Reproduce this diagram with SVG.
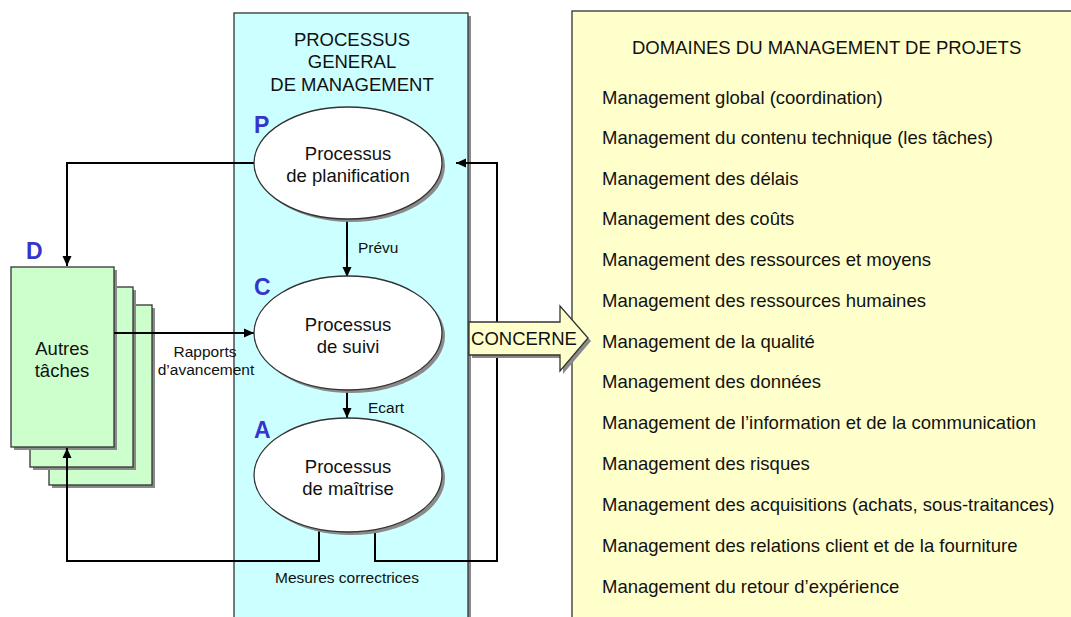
<svg xmlns="http://www.w3.org/2000/svg" width="1071" height="617" viewBox="0 0 1071 617">
<defs>
<marker id="ah" viewBox="0 0 10 10" refX="10" refY="5" markerWidth="10" markerHeight="10" markerUnits="userSpaceOnUse" orient="auto">
<path d="M0,0.5 L10,5 L0,9.5 Z" fill="#000"/>
</marker>
</defs>
<style>
text{font-family:"Liberation Sans",Arial,sans-serif;fill:#111}
.t{font-size:18.5px}
.s{font-size:15.5px}
.m{text-anchor:middle}
.lt{font-size:23px;font-weight:bold;fill:#3535CC}
.sh{fill:#8a8a8a}
.box{stroke:#333;stroke-width:1.3}
.conn{fill:none;stroke:#000;stroke-width:2}
.ell{fill:#fff;stroke:#333;stroke-width:1.3}
</style>
<rect width="1071" height="617" fill="#fff"/>

<g id="panel-processus">
<rect class="sh" x="237" y="16" width="234" height="610"/>
<rect class="box" x="234" y="13" width="234" height="610" fill="#CCFFFF"/>
<text class="t m" x="352" y="46">PROCESSUS</text>
<text class="t m" x="352" y="68">GENERAL</text>
<text class="t m" x="352" y="90.5">DE MANAGEMENT</text>
</g>

<g id="panel-domaines">
<rect class="sh" x="575" y="14" width="510" height="620"/>
<rect class="box" x="572" y="11" width="510" height="620" fill="#FFFFCC"/>
<text class="t" x="632" y="54">DOMAINES DU MANAGEMENT DE PROJETS</text>
<g class="t">
<text x="602" y="104">Management global (coordination)</text>
<text x="602" y="144">Management du contenu technique (les tâches)</text>
<text x="602" y="185">Management des délais</text>
<text x="602" y="225">Management des coûts</text>
<text x="602" y="266">Management des ressources et moyens</text>
<text x="602" y="307">Management des ressources humaines</text>
<text x="602" y="348">Management de la qualité</text>
<text x="602" y="388">Management des données</text>
<text x="602" y="429">Management de l’information et de la communication</text>
<text x="602" y="470">Management des risques</text>
<text x="602" y="511">Management des acquisitions (achats, sous-traitances)</text>
<text x="602" y="552">Management des relations client et de la fourniture</text>
<text x="602" y="593">Management du retour d’expérience</text>
</g>
</g>

<g id="autres-taches">
<rect class="sh" x="52" y="308" width="103" height="180"/>
<rect class="box" x="49" y="305" width="103" height="180" fill="#CCFFCC"/>
<rect class="sh" x="33" y="290" width="103" height="180"/>
<rect class="box" x="30" y="287" width="103" height="180" fill="#CCFFCC"/>
<rect class="sh" x="14" y="270" width="103" height="180"/>
<rect class="box" x="11" y="267" width="103" height="180" fill="#CCFFCC"/>
<text class="t m" x="62" y="355">Autres</text>
<text class="t m" x="62" y="377">tâches</text>
<text class="lt" x="26" y="259">D</text>
</g>

<g id="connectors">
<path class="conn" d="M256,163 H67 V266" marker-end="url(#ah)"/>
<path class="conn" d="M114,333 H254" marker-end="url(#ah)"/>
<path class="conn" d="M347,219 V277" marker-end="url(#ah)"/>
<path class="conn" d="M347,389 V418" marker-end="url(#ah)"/>
<path class="conn" d="M319,526 V561 H67 V448" marker-end="url(#ah)"/>
<path class="conn" d="M375,526 V561 H497 V163 H456" marker-end="url(#ah)"/>
<text class="s m" x="205" y="357">Rapports</text>
<text class="s m" x="206" y="375">d’avancement</text>
<text class="s" x="358" y="253">Prévu</text>
<text class="s" x="368" y="413">Ecart</text>
<text class="s m" x="347" y="583">Mesures correctrices</text>
</g>

<g id="planification">
<ellipse class="sh" cx="351" cy="166" rx="94" ry="56"/>
<ellipse class="ell" cx="348" cy="163" rx="94" ry="56"/>
<text class="t m" x="348" y="160">Processus</text>
<text class="t m" x="348" y="182">de planification</text>
<text class="lt" x="254" y="133">P</text>
</g>

<g id="suivi">
<ellipse class="sh" cx="351" cy="336" rx="94" ry="57"/>
<ellipse class="ell" cx="348" cy="333" rx="94" ry="57"/>
<text class="t m" x="348" y="331">Processus</text>
<text class="t m" x="348" y="353">de suivi</text>
<text class="lt" x="254" y="295">C</text>
</g>

<g id="maitrise">
<ellipse class="sh" cx="351" cy="478" rx="94" ry="57"/>
<ellipse class="ell" cx="348" cy="475" rx="94" ry="57"/>
<text class="t m" x="348" y="473">Processus</text>
<text class="t m" x="348" y="495">de maîtrise</text>
<text class="lt" x="254" y="438">A</text>
</g>

<g id="concerne">
<path class="sh" d="M472,325 H563 V309 L591,341 L563,374 V358 H472 Z"/>
<path class="box" fill="#FFFFCC" d="M469,322 H560 V306 L588,338 L560,371 V355 H469 Z"/>
<text class="t m" x="524" y="345">CONCERNE</text>
</g>
</svg>
